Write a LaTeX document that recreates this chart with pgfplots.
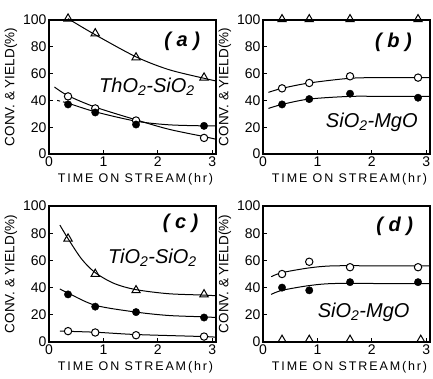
\documentclass[border=0pt]{standalone}
\usepackage{fontspec}
\setmainfont{Liberation Sans}
\newfontfamily\spaced[LetterSpace=15]{Liberation Sans}
\usepackage{pgfplots}
\pgfplotsset{compat=1.18}
\pgfplotsset{
  panel/.style={
    scale only axis, width=167pt, height=134pt,
    xmin=0, xmax=3.07, ymin=0, ymax=100,
    xtick={0,1,2,3}, ytick={0,20,40,60,80,100},
    tick align=inside, tick pos=left, major tick length=4pt,
    axis line style={line width=1.2pt},
    every tick/.style={line width=1pt, black},
    tick label style={font=\fontsize{14}{15}\selectfont},
    xticklabel style={yshift=1pt},
    yticklabel style={xshift=1pt},
    /pgf/number format/assume math mode=true,
    xlabel={\spaced TIME ON STREAM(hr)},
    ylabel={CONV.\ \& YIELD(\%)},
    label style={font=\fontsize{13.5}{14}\selectfont},
    xlabel style={yshift=0pt, xshift=3pt, font=\fontsize{12.5}{14}\selectfont},
    ylabel style={yshift=-1pt},
    clip=false,
  },
  fit/.style={black, line width=1pt, smooth, no markers},
  oc/.style={only marks, mark=*, mark size=3.7pt, mark options={fill=white, draw=black, line width=1pt}},
  fc/.style={only marks, mark=*, mark size=3.7pt, mark options={fill=black, draw=black}},
  tr/.style={only marks, mark=triangle, mark size=4.8pt, mark options={draw=black, fill=white, line width=1pt}},
}
\tikzset{
  plab/.style={font=\fontsize{20}{22}\selectfont\bfseries\itshape, anchor=center},
  clab/.style={font=\fontsize{20}{22}\selectfont\itshape, anchor=center},
}
\begin{document}
\begin{tikzpicture}
\path[use as bounding box] (0pt,0pt) rectangle (433pt,-378pt);
% (a)
\begin{axis}[panel, at={(49pt,-154pt)}, anchor=south west]
\addplot[fit] coordinates {(0.35,101) (0.85,89) (1.6,72.5) (2.2,63) (2.85,56.5) (3.07,54.5)};
\addplot[fit] coordinates {(0.1,50) (0.35,43.5) (0.85,35) (1.6,25.5) (2.2,18.5) (2.85,13) (3.07,11)};
\addplot[fit, dashed] coordinates {(0.15,40) (0.35,38)};
\addplot[fit] coordinates {(0.35,38) (0.85,31.5) (1.6,24.5) (2.2,21.8) (2.85,21) (3.07,21)};
\addplot[tr] coordinates {(0.35,101) (0.85,90) (1.6,72) (2.85,57)};
\addplot[oc] coordinates {(0.35,43) (0.85,34) (1.6,25) (2.85,12)};
\addplot[fc] coordinates {(0.35,37) (0.85,31) (1.6,22) (2.85,21)};
\node[plab] at (axis cs:2.45,84) {( a )};
\node[clab] at (axis cs:1.8,50) {ThO\textsubscript{2}-SiO\textsubscript{2}};
\end{axis}
% (b)
\begin{axis}[panel, at={(263pt,-154pt)}, anchor=south west]
\addplot[fit] coordinates {(0.1,100) (3.07,100)};
\addplot[fit] coordinates {(0.1,46) (0.35,49) (0.85,53) (1.6,56.5) (2.2,57) (3.07,57)};
\addplot[fit] coordinates {(0.1,34) (0.35,37) (0.85,41) (1.6,43) (2.2,43) (3.07,43)};
\addplot[tr] coordinates {(0.35,100.5) (0.85,100.5) (1.6,100.5) (2.85,100.5)};
\addplot[oc] coordinates {(0.35,49) (0.85,53) (1.6,58) (2.85,57)};
\addplot[fc] coordinates {(0.35,37) (0.85,41) (1.6,45) (2.85,42)};
\node[plab] at (axis cs:2.4,83) {( b )};
\node[clab] at (axis cs:2.0,24) {SiO\textsubscript{2}-MgO};
\end{axis}
% (c)
\begin{axis}[panel, height=136pt, at={(49pt,-342pt)}, anchor=south west]
\addplot[fit] coordinates {(0.2,86) (0.35,76) (0.6,61) (0.85,51) (1.2,43) (1.6,38.5) (2.2,35.5) (2.85,34.5) (3.07,34)};
\addplot[fit] coordinates {(0.2,39) (0.35,36) (0.85,27) (1.6,22) (2.2,19.5) (2.85,18.5) (3.07,18)};
\addplot[fit] coordinates {(0.2,8) (0.85,7.2) (1.6,5.5) (2.85,4) (3.07,3.5)};
\addplot[tr] coordinates {(0.35,76) (0.85,50) (1.6,38) (2.85,35)};
\addplot[fc] coordinates {(0.35,35) (0.85,26) (1.6,22) (2.85,18)};
\addplot[oc] coordinates {(0.35,8) (0.85,7) (1.6,5) (2.85,4)};
\node[plab] at (axis cs:2.42,87) {( c )};
\node[clab] at (axis cs:1.9,62) {TiO\textsubscript{2}-SiO\textsubscript{2}};
\end{axis}
% (d)
\begin{axis}[panel, height=136pt, at={(263pt,-342pt)}, anchor=south west]
\addplot[fit] coordinates {(0.15,48) (0.35,51) (0.85,54.5) (1.3,56) (2.2,56) (3.07,56)};
\addplot[fit] coordinates {(0.15,35) (0.35,38) (0.85,41.5) (1.3,43) (2.2,43) (3.07,43)};
\addplot[tr] coordinates {(0.35,1.5) (0.85,1.5) (1.6,1.5) (2.9,1.5)};
\addplot[oc] coordinates {(0.35,50) (0.85,59) (1.6,55) (2.85,55)};
\addplot[fc] coordinates {(0.35,40) (0.85,38) (1.6,44) (2.85,44)};
\node[plab] at (axis cs:2.42,85) {( d )};
\node[clab] at (axis cs:1.85,22) {SiO\textsubscript{2}-MgO};
\end{axis}
\end{tikzpicture}
\end{document}
